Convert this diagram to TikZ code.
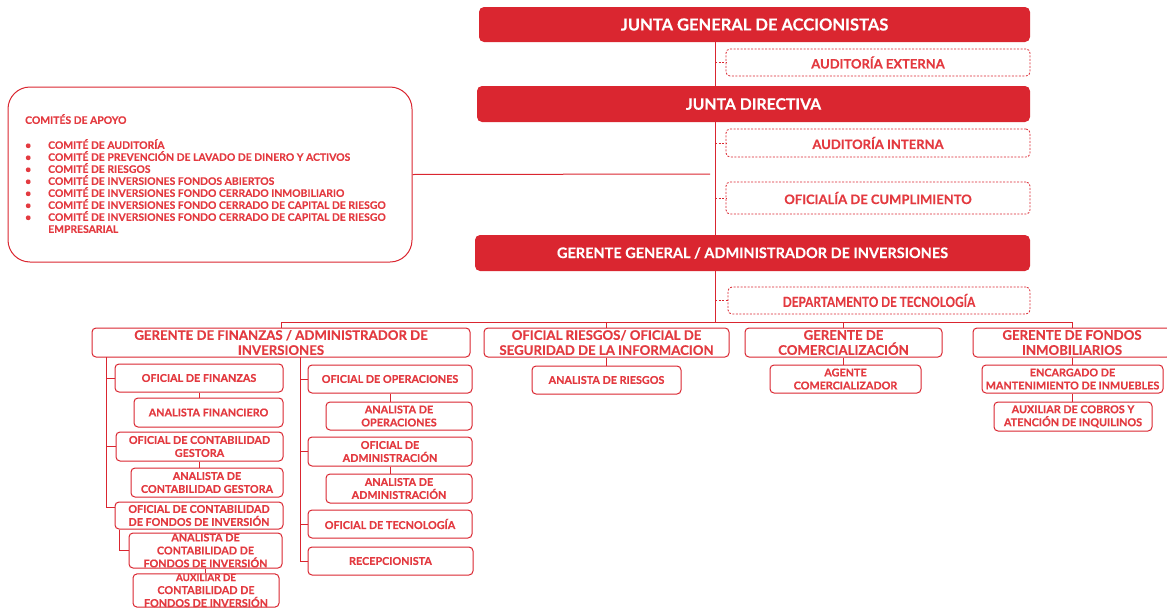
\documentclass[tikz,border=0pt]{standalone}
\usepackage{fontspec}
\setmainfont{Lato}[BoldFeatures={FakeBold=0.35}]
\usepackage{graphicx}

\definecolor{rojo}{HTML}{DA2630}
\definecolor{rojotxt}{HTML}{E33A40}

% estilos del organigrama
\tikzset{%
    titulo/.style={fill=rojo,rounded corners=5pt,text=white,font=\fontsize{16.5}{18}\selectfont\bfseries},
    apoyo/.style={draw=rojo,dash pattern=on 2pt off 1.5pt,line width=0.8pt,rounded corners=4pt,text=rojotxt,font=\fontsize{13}{15}\selectfont\bfseries},
    cargo/.style={draw=rojo,line width=1pt,rounded corners=4pt,fill=white,text=rojotxt,align=center,font=\fontsize{10.8}{13}\selectfont\bfseries},
    jefe/.style={cargo,font=\fontsize{13.2}{15}\selectfont\bfseries},
    linea/.style={draw=rojo,line width=1pt},
    lineaap/.style={draw=rojo,line width=0.8pt,dash pattern=on 2pt off 1.5pt},
}

\begin{document}
\begin{tikzpicture}[x=1pt,y=-1pt]

%\caja{style}{name}{x1}{y1}{x2}{y2}{text}
\newcommand*{\caja}[7]{%
	\node [#1,inner sep=0pt,minimum width={(#5-#3)*1pt},minimum height={(#6-#4)*1pt}] (#2) at ({(#3+#5)/2},{(#4+#6)/2}) {#7};
}

\useasboundingbox (0,0) rectangle (1167,608);

% eje central
\coordinate (bus) at (715,322);
\coordinate (finlinea) at (710,174);

% juntas y gerencia
\caja{titulo}{jga}{479}{7}{1030}{42}{JUNTA GENERAL DE ACCIONISTAS}
\caja{apoyo}{ext}{726}{49}{1030}{76}{AUDITORÍA EXTERNA}
\caja{titulo}{jd}{477}{86}{1030}{122}{\fontsize{15.8}{18}\selectfont JUNTA DIRECTIVA}
\caja{apoyo}{int}{726}{129}{1030}{157}{AUDITORÍA INTERNA}
\caja{apoyo}{cump}{726}{182}{1030}{214}{OFICIALÍA DE CUMPLIMIENTO}
\caja{titulo}{gg}{475}{235}{1030}{271}{\fontsize{14.5}{17}\selectfont GERENTE GENERAL / ADMINISTRADOR DE INVERSIONES}
\caja{apoyo}{dtec}{728}{287}{1030}{314}{\fontsize{14}{15}\selectfont\scalebox{0.84}[1]{DEPARTAMENTO DE TECNOLOGÍA}}

\draw [linea] (jga.south -| bus) -- (jd.north -| bus);
\draw [linea] (jd.south -| bus) -- (gg.north -| bus);
\draw [linea] (gg.south -| bus) -- (bus);
\draw [lineaap] (ext.west -| bus) -- (ext.west);
\draw [lineaap] (int.west -| bus) -- (int.west);
\draw [lineaap] (cump.west -| bus) -- (cump.west);
\draw [lineaap] (dtec.west -| bus) -- (dtec.west);

% comites de apoyo
\node [draw=rojo,line width=1pt,rounded corners=22pt,minimum width=404pt,minimum height=175pt] (comites) at (210,174.5) {};
\node [anchor=north west,text=rojotxt,align=left,inner sep=0pt,font=\fontsize{10.4}{12}\selectfont\bfseries] (lista) at (25,114) {%
	COMITÉS DE APOYO\\[13pt]
	\makebox[23pt][l]{\textbullet}COMITÉ DE AUDITORÍA\\
	\makebox[23pt][l]{\textbullet}COMITÉ DE PREVENCIÓN DE LAVADO DE DINERO Y ACTIVOS\\
	\makebox[23pt][l]{\textbullet}COMITÉ DE RIESGOS\\
	\makebox[23pt][l]{\textbullet}COMITÉ DE INVERSIONES FONDOS ABIERTOS\\
	\makebox[23pt][l]{\textbullet}COMITÉ DE INVERSIONES FONDO CERRADO INMOBILIARIO\\
	\makebox[23pt][l]{\textbullet}COMITÉ DE INVERSIONES FONDO CERRADO DE CAPITAL DE RIESGO\\
	\makebox[23pt][l]{\textbullet}COMITÉ DE INVERSIONES FONDO CERRADO DE CAPITAL DE RIESGO\\
	\makebox[23pt][l]{}EMPRESARIAL};
\draw [linea] (comites.east) -- (finlinea);

% segundo nivel
\caja{jefe}{gfin}{92}{328}{470}{357}{GERENTE DE FINANZAS / ADMINISTRADOR DE\\INVERSIONES}
\caja{jefe}{ries}{484}{328}{729}{357}{OFICIAL RIESGOS/ OFICIAL DE\\SEGURIDAD DE LA INFORMACION}
\caja{jefe}{comer}{745}{328}{942}{357}{GERENTE DE\\COMERCIALIZACIÓN}
\caja{jefe}{fondos}{973}{328}{1171}{357}{GERENTE DE FONDOS\\INMOBILIARIOS}

\draw [linea] (gfin.north) -- (gfin.north |- bus) -| (fondos.north);
\draw [linea] (ries.north) -- (ries.north |- bus);
\draw [linea] (comer.north) -- (comer.north |- bus);

\caja{cargo}{aries}{532}{366}{681}{394}{ANALISTA DE RIESGOS}
\caja{cargo}{agente}{770}{365}{921}{393}{AGENTE\\COMERCIALIZADOR}
\caja{cargo}{enc}{982}{365}{1163}{393}{ENCARGADO DE\\MANTENIMIENTO DE INMUEBLES}
\caja{cargo}{auxc}{994}{402}{1152}{431}{AUXILIAR DE COBROS Y\\ATENCIÓN DE INQUILINOS}

\draw [linea] (ries.south) -- (ries.south |- aries.north);
\draw [linea] (comer.south) -- (comer.south |- agente.north);
\draw [linea] (enc.north |- fondos.south) -- (enc.north);
\draw [linea] (enc.south) -- (enc.south |- auxc.north);

% finanzas, columna izquierda
\coordinate (izq) at (106,357);
\coordinate (der) at (300,357);

\caja{cargo}{ofin}{115}{364}{283}{392}{OFICIAL DE FINANZAS}
\caja{cargo}{afin}{134}{398}{283}{427}{ANALISTA FINANCIERO}
\caja{cargo}{ocg}{116}{432}{283}{461}{OFICIAL DE CONTABILIDAD\\GESTORA}
\caja{cargo}{acg}{131}{468}{283}{497}{ANALISTA DE\\CONTABILIDAD GESTORA}
\caja{cargo}{ocf}{115}{502}{283}{529}{OFICIAL DE CONTABILIDAD\\DE FONDOS DE INVERSIÓN}
\caja{cargo}{acf}{129}{533}{282}{568}{\fontsize{10.8}{12.3}\selectfont ANALISTA DE\\CONTABILIDAD DE\\FONDOS DE INVERSIÓN}
\caja{cargo}{auxf}{133}{574}{279}{607}{\fontsize{9.8}{11}\selectfont AUXILIAR DE\\CONTABILIDAD DE\\FONDOS DE INVERSIÓN}

\draw [linea] (izq) |- ([yshift=8pt]ocf.west);
\draw [linea] (ofin.west -| izq) -- (ofin.west);
\draw [linea] (ocg.west -| izq) -- (ocg.west);
\draw [linea] (ofin.south) -- (ofin.south |- afin.north);
\draw [linea] (ocg.south) -- (ocg.south |- acg.north);
\draw [linea] ([xshift=5pt]ocf.south west) |- (acf.west);
\draw [linea] (acf.south) -- (acf.south |- auxf.north);

% finanzas, columna derecha
\caja{cargo}{ops}{308}{365}{472}{393}{OFICIAL DE OPERACIONES}
\caja{cargo}{aops}{326}{402}{472}{430}{ANALISTA DE\\OPERACIONES}
\caja{cargo}{adm}{308}{437}{472}{466}{OFICIAL DE\\ADMINISTRACIÓN}
\caja{cargo}{aadm}{326}{474}{472}{503}{ANALISTA DE\\ADMINISTRACIÓN}
\caja{cargo}{otec}{308}{510}{472}{538}{OFICIAL DE TECNOLOGÍA}
\caja{cargo}{recep}{308}{547}{473}{575}{RECEPCIONISTA}

\draw [linea] (der) |- (recep.west);
\draw [linea] (ops.west -| der) -- (ops.west);
\draw [linea] (adm.west -| der) -- (adm.west);
\draw [linea] (otec.west -| der) -- (otec.west);
\draw [linea] (ops.south) -- (ops.south |- aops.north);
\draw [linea] (adm.south) -- (adm.south |- aadm.north);

\end{tikzpicture}
\end{document}
